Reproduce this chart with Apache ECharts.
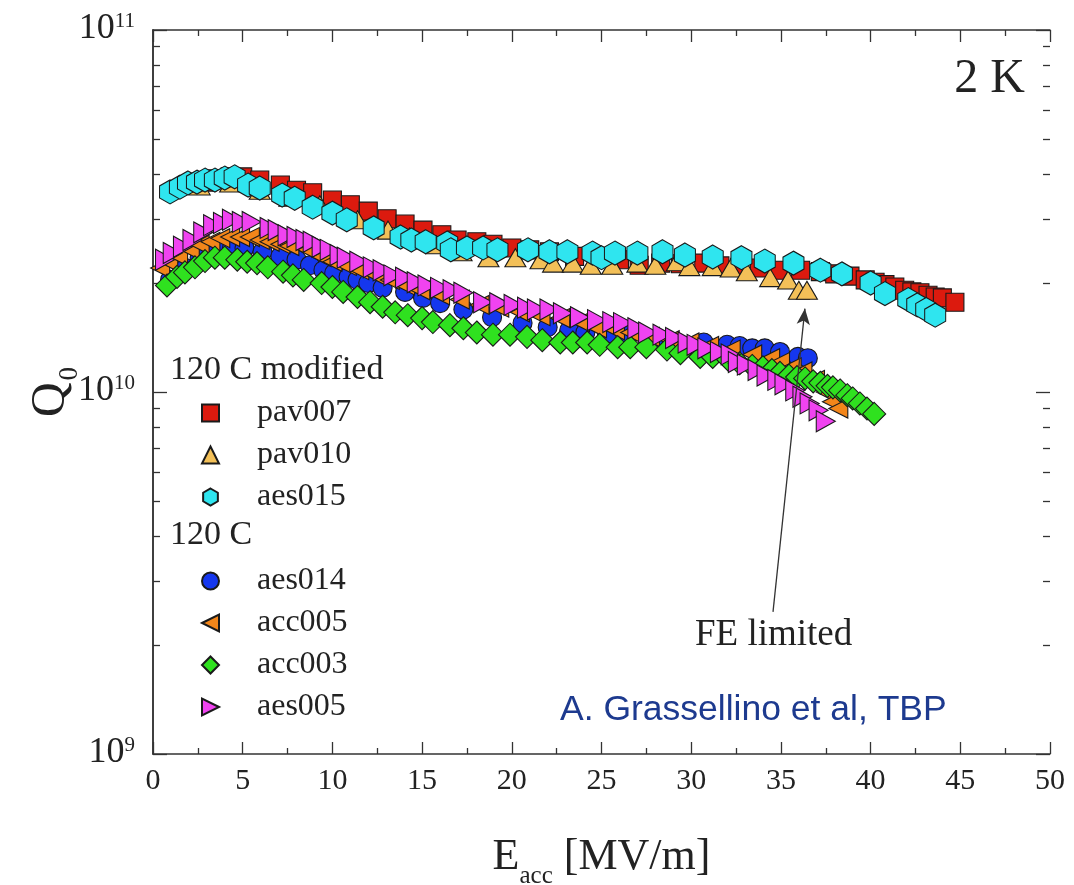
<!DOCTYPE html>
<html>
<head>
<meta charset="utf-8">
<script src="https://cdn.jsdelivr.net/npm/echarts@6/dist/echarts.min.js"></script>
<style>
  html, body { margin: 0; padding: 0; background: #fff; }
  #chart { width: 1074px; height: 885px; }
</style>
</head>
<body>
<div id="chart"></div>
<script>
// E_acc in MV/m, Q0 stored in units of 1e10
const pav007 = [[3.0,3.80],[3.6,3.88],[4.3,3.93],[5.0,3.93],[5.95,3.85],[7.1,3.73],[8.0,3.61],[8.9,3.55],[10.0,3.39],[11.0,3.29],[12.0,3.16],[13.05,3.01],[14.05,2.91],[15.05,2.80],[16.1,2.72],[16.95,2.63],[18.05,2.60],[18.95,2.56],[20.0,2.50],[21.0,2.47],[22.1,2.44],[23.5,2.37],[24.9,2.35],[26.0,2.32],[27.1,2.24],[28.3,2.27],[29.4,2.26],[30.7,2.27],[31.6,2.23],[32.7,2.21],[33.8,2.20],[34.95,2.17],[36.1,2.17],[37.2,2.15],[38.0,2.12],[38.85,2.09],[39.7,2.04],[40.25,2.01],[40.8,1.98],[41.35,1.95],[41.9,1.91],[42.3,1.89],[42.75,1.88],[43.2,1.85],[43.6,1.83],[44.0,1.82],[44.7,1.77]];
const pav010 = [[2.6,3.71],[4.3,3.78],[5.95,3.61],[7.6,3.45],[9.3,3.29],[11.4,2.99],[13.1,2.80],[14.3,2.68],[15.8,2.55],[17.2,2.44],[18.7,2.35],[20.2,2.35],[21.6,2.32],[22.3,2.27],[23.4,2.27],[24.4,2.24],[25.6,2.24],[27.0,2.27],[28.0,2.24],[29.2,2.29],[29.9,2.22],[31.2,2.22],[32.2,2.20],[33.1,2.15],[34.4,2.07],[35.4,2.04],[36.0,1.91],[36.45,1.91]];
const aes015 = [[0.95,3.57],[1.5,3.68],[1.95,3.78],[2.45,3.80],[2.9,3.85],[3.45,3.85],[4.0,3.90],[4.55,3.93],[5.3,3.73],[5.95,3.66],[7.2,3.50],[7.9,3.43],[8.9,3.24],[10.0,3.12],[10.8,2.99],[12.3,2.84],[13.8,2.68],[14.4,2.63],[15.2,2.60],[16.4,2.58],[16.6,2.47],[17.5,2.50],[18.4,2.50],[19.2,2.47],[20.9,2.47],[22.1,2.44],[23.1,2.44],[24.5,2.42],[25.0,2.35],[25.75,2.42],[27.0,2.42],[28.4,2.44],[29.65,2.39],[31.2,2.36],[32.8,2.35],[34.1,2.30],[35.7,2.27],[37.2,2.17],[38.4,2.12],[40.0,2.00],[40.8,1.87],[42.1,1.80],[42.6,1.74],[43.1,1.69],[43.6,1.63]];
const aes014 = [[0.95,2.04],[1.8,2.20],[2.6,2.35],[3.6,2.47],[4.4,2.50],[5.1,2.50],[6.1,2.44],[7.1,2.37],[8.0,2.32],[8.75,2.24],[9.5,2.17],[10.1,2.13],[10.9,2.08],[11.4,2.04],[12.0,2.00],[12.8,1.94],[14.05,1.89],[15.05,1.82],[16.0,1.76],[17.3,1.69],[18.9,1.61],[20.6,1.55],[22.0,1.51],[23.2,1.48],[24.1,1.46],[25.3,1.45],[26.5,1.44],[28.3,1.39],[30.7,1.37],[32.0,1.35],[32.7,1.34],[33.4,1.32],[34.1,1.32],[34.95,1.29],[35.95,1.25],[36.5,1.24]];
const acc005 = [[0.4,2.20],[0.85,2.29],[1.4,2.37],[2.05,2.47],[2.6,2.55],[3.2,2.60],[3.75,2.66],[4.3,2.68],[4.85,2.68],[5.4,2.68],[5.95,2.63],[6.5,2.60],[7.1,2.56],[7.6,2.53],[8.6,2.47],[9.4,2.36],[10.0,2.29],[10.8,2.23],[11.5,2.17],[12.4,2.10],[13.2,2.04],[14.05,1.97],[14.9,1.91],[16.0,1.85],[17.1,1.80],[18.2,1.74],[19.3,1.71],[20.45,1.66],[21.6,1.62],[22.7,1.60],[23.8,1.56],[24.75,1.50],[25.75,1.48],[26.6,1.46],[27.7,1.42],[28.8,1.39],[29.9,1.37],[31.0,1.34],[32.2,1.31],[33.4,1.27],[34.4,1.24],[34.95,1.21],[35.6,1.17],[36.2,1.14],[36.9,1.08],[37.5,1.00],[37.85,0.94],[38.2,0.90]];
const acc003 = [[0.78,1.97],[1.34,2.08],[1.78,2.14],[2.34,2.21],[2.9,2.30],[3.45,2.35],[4.0,2.35],[4.7,2.32],[5.25,2.29],[5.8,2.27],[6.4,2.21],[7.25,2.15],[7.8,2.10],[8.4,2.04],[9.4,2.00],[10.0,1.95],[10.6,1.89],[11.4,1.83],[12.1,1.77],[12.8,1.72],[13.5,1.66],[14.2,1.63],[15.0,1.60],[15.6,1.56],[16.55,1.53],[17.3,1.50],[18.05,1.46],[18.95,1.44],[19.9,1.44],[20.85,1.42],[21.7,1.39],[22.7,1.37],[23.4,1.37],[24.2,1.37],[24.9,1.35],[25.9,1.33],[26.6,1.33],[27.5,1.33],[28.65,1.31],[29.4,1.28],[30.5,1.25],[31.2,1.25],[32.05,1.23],[32.7,1.20],[33.4,1.18],[34.0,1.17],[34.5,1.15],[34.95,1.13],[35.45,1.11],[35.9,1.10],[36.35,1.09],[36.8,1.07],[37.2,1.06],[37.6,1.04],[37.9,1.03],[38.3,1.01],[38.7,0.98],[39.0,0.96],[39.4,0.93],[39.8,0.90],[40.2,0.87]];
const aes005 = [[0.67,2.32],[1.1,2.42],[1.67,2.52],[2.2,2.63],[2.8,2.76],[3.35,2.89],[3.9,2.93],[4.4,2.99],[4.95,2.95],[5.5,2.95],[6.5,2.84],[6.95,2.80],[7.5,2.71],[8.0,2.68],[8.5,2.63],[8.9,2.60],[9.4,2.52],[9.85,2.47],[10.4,2.39],[10.8,2.35],[11.5,2.29],[12.25,2.21],[12.8,2.17],[13.4,2.10],[14.05,2.07],[14.7,2.01],[15.3,1.97],[16.0,1.94],[16.7,1.91],[17.3,1.88],[18.4,1.77],[19.3,1.76],[20.1,1.74],[20.85,1.71],[21.4,1.69],[22.1,1.69],[22.85,1.65],[23.8,1.61],[24.75,1.58],[25.6,1.56],[26.2,1.55],[27.0,1.50],[27.6,1.46],[28.4,1.44],[29.1,1.41],[29.8,1.37],[30.3,1.35],[30.9,1.32],[31.6,1.29],[32.2,1.27],[32.6,1.21],[33.1,1.19],[33.7,1.15],[34.2,1.11],[34.8,1.08],[35.2,1.05],[35.8,1.01],[36.2,0.97],[36.6,0.93],[37.1,0.89],[37.5,0.83]];

// x ticks every 5 MV/m, y decades 1e9..1e11
const xTicks = [0, 5, 10, 15, 20, 25, 30, 35, 40, 45, 50];
const yDecades = [1e9, 1e10, 1e11];
// "FE limited" arrow: from the label up to the last pav010 point (E, Q/1e10)
const feArrow = [[34.56, 0.247], [36.34, 1.70]];

const SERIF = 'Liberation Serif';
const UNIT = 1e10;
const toQ = arr => arr.map(p => [p[0], p[1] * UNIT]);

// tick positions on the log10 scale: decades and the 2..9 minor ticks
const majorLogTicks = yDecades.map(v => Math.log10(v));
const minorLogTicks = [];
majorLogTicks.slice(0, -1).forEach(d => { for (let k = 2; k <= 9; k++) minorLogTicks.push(d + Math.log10(k)); });

const border = { borderColor: '#1a1a1a', borderWidth: 1.1, opacity: 1 };
const HEX = 'path://M0.866,0L1.732,0.5L1.732,1.5L0.866,2L0,1.5L0,0.5Z';
const LEFT_TRI = 'path://M0,5L10,0L10,10Z';
const RIGHT_TRI = 'path://M10,5L0,0L0,10Z';
const DIAMOND = 'path://M5,0L10,5L5,10L0,5Z';

function scatter(name, data, symbol, size, color, extra) {
  return Object.assign({
    name, type: 'scatter', data: toQ(data), symbol, symbolSize: size,
    itemStyle: Object.assign({ color }, border),
    xAxisIndex: 0, yAxisIndex: 0
  }, extra || {});
}

const axisLine = { show: true, lineStyle: { color: '#333', width: 1.5 } };
const tickStyle = { color: '#333', width: 1.3 };

// overlay value axes (log10 units) carrying only tick marks
function tickAxis(position, values, length) {
  return {
    type: 'value', min: majorLogTicks[0], max: majorLogTicks[majorLogTicks.length - 1], position,
    axisLine: { show: false },
    axisTick: { show: true, inside: true, length, customValues: values, lineStyle: tickStyle },
    splitLine: { show: false },
    axisLabel: { show: false }
  };
}

const chart = echarts.init(document.getElementById('chart'));
chart.setOption({
  animation: false,
  backgroundColor: '#fff',
  grid: { left: 153, right: 24, top: 30, bottom: 131, containLabel: false, outerBoundsMode: 'none' },
  xAxis: [
    {
      type: 'value', min: xTicks[0], max: xTicks[xTicks.length - 1], interval: 5, position: 'bottom',
      axisLine,
      axisTick: { inside: true, length: 12, lineStyle: tickStyle },
      minorTick: { show: true, splitNumber: 2, length: 6, lineStyle: tickStyle },
      splitLine: { show: false }, minorSplitLine: { show: false },
      axisLabel: { margin: 12, fontFamily: SERIF, fontSize: 30, color: '#222' },
      name: '{e|E}{s|acc}{e| [MV/m]}', nameLocation: 'middle', nameGap: 81, nameMoveOverlap: false,
      nameTextStyle: {
        rich: {
          e: { fontFamily: SERIF, fontSize: 44, color: '#222', lineHeight: 48, verticalAlign: 'top' },
          s: { fontFamily: SERIF, fontSize: 25, color: '#222', lineHeight: 22, verticalAlign: 'top', padding: [29, 0, 0, 0] }
        }
      }
    },
    {
      type: 'value', min: 0, max: 50, interval: 5, position: 'top',
      axisLine,
      axisTick: { inside: true, length: 12, lineStyle: tickStyle },
      minorTick: { show: true, splitNumber: 2, length: 6, lineStyle: tickStyle },
      splitLine: { show: false }, minorSplitLine: { show: false },
      axisLabel: { show: false }
    }
  ],
  yAxis: [
    {
      type: 'log', logBase: 10, min: yDecades[0], max: yDecades[yDecades.length - 1], position: 'left',
      axisLine,
      axisTick: { show: false },
      splitLine: { show: false },
      axisLabel: {
        margin: 18,
        formatter: v => '{b|10}{e|' + Math.round(Math.log10(v)) + '}',
        rich: {
          b: { fontFamily: SERIF, fontSize: 36, color: '#222', lineHeight: 38, verticalAlign: 'top' },
          e: { fontFamily: SERIF, fontSize: 21, color: '#222', lineHeight: 21, verticalAlign: 'top' }
        }
      },
      name: '{q|Q}{s|0}', nameLocation: 'middle', nameGap: 74, nameRotate: 90, nameMoveOverlap: false,
      nameTextStyle: {
        rich: {
          q: { fontFamily: SERIF, fontSize: 48, color: '#222', lineHeight: 52, verticalAlign: 'top' },
          s: { fontFamily: SERIF, fontSize: 27, color: '#222', lineHeight: 26, verticalAlign: 'top', padding: [29, 0, 0, 2] }
        }
      }
    },
    {
      type: 'log', logBase: 10, min: 1e9, max: 1e11, position: 'right',
      axisLine,
      axisTick: { show: false },
      splitLine: { show: false },
      axisLabel: { show: false }
    },
    tickAxis('left', majorLogTicks, 14),
    tickAxis('left', minorLogTicks, 7),
    tickAxis('right', majorLogTicks, 14),
    tickAxis('right', minorLogTicks, 7)
  ],
  legend: [
    {
      data: ['pav007', 'pav010', 'aes015'],
      orient: 'vertical', left: 196, top: 392, itemWidth: 17, itemHeight: 17, itemGap: 10,
      selectedMode: false,
      textStyle: { fontFamily: SERIF, fontSize: 32, color: '#222', lineHeight: 32, padding: [0, 0, 0, 33] }
    },
    {
      data: ['aes014', 'acc005', 'acc003', 'aes005'],
      orient: 'vertical', left: 196, top: 560, itemWidth: 17, itemHeight: 17, itemGap: 10,
      selectedMode: false,
      textStyle: { fontFamily: SERIF, fontSize: 32, color: '#222', lineHeight: 32, padding: [0, 0, 0, 33] }
    }
  ],
  graphic: [
    { type: 'text', left: 170, top: 353, style: { text: '120 C modified', font: '34px "Liberation Serif"', fill: '#222' } },
    { type: 'text', left: 170, top: 518, style: { text: '120 C', font: '34px "Liberation Serif"', fill: '#222' } },
    { type: 'text', right: 49, top: 55, style: { text: '2 K', font: '48px "Liberation Serif"', fill: '#222' } },
    { type: 'text', left: 695, top: 617, style: { text: 'FE limited', font: '37px "Liberation Serif"', fill: '#222' } },
    { type: 'text', left: 560, top: 692, style: { text: 'A. Grassellino et al, TBP', font: '35.5px "Liberation Sans"', fill: '#1d3a8f' } }
  ],
  series: [
    scatter('pav007', pav007, 'rect', 18, '#dc1a0e'),
    scatter('pav010', pav010, 'triangle', [21, 18], '#f3c058', {
      markLine: {
        silent: true, symbol: ['none', 'arrow'], symbolSize: [10, 16],
        lineStyle: { color: '#333', width: 1.3, type: 'solid' },
        label: { show: false },
        data: [[{ coord: [feArrow[0][0], feArrow[0][1] * UNIT] }, { coord: [feArrow[1][0], feArrow[1][1] * UNIT] }]]
      }
    }),
    scatter('aes015', aes015, HEX, [21, 24], '#2fe5ef'),
    scatter('aes014', aes014, 'circle', 19, '#1537ee'),
    scatter('acc005', acc005, LEFT_TRI, [19, 19], '#f3861a'),
    scatter('acc003', acc003, DIAMOND, 23, '#2fe11f'),
    scatter('aes005', aes005, RIGHT_TRI, [19, 21], '#f043f0')
  ]
});
</script>
</body>
</html>
